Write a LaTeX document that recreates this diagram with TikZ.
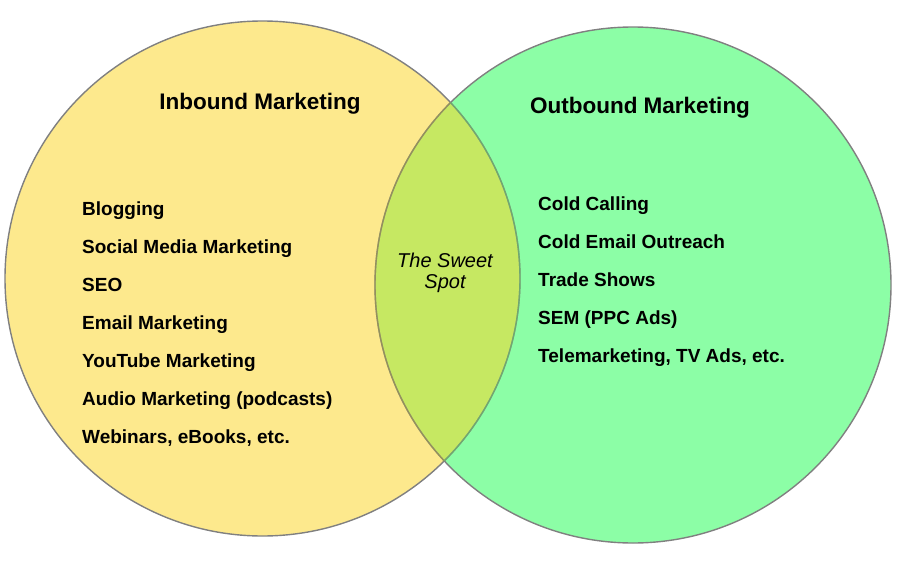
\documentclass[tikz,border=0pt]{standalone}
\usepackage{fontspec}
\setmainfont{Liberation Sans}
\definecolor{inyellow}{HTML}{FDE98D}
\definecolor{outgreen}{HTML}{8CFEA6}
\definecolor{sweet}{HTML}{C6E862}
\definecolor{rim}{HTML}{808080}
\begin{document}
\begin{tikzpicture}[x=1pt,y=-1pt,
  title/.style={font=\fontsize{22.5}{26}\selectfont\bfseries, anchor=base},
  item/.style={font=\fontsize{19}{22}\selectfont\bfseries, anchor=base west, inner sep=0pt},
  sweetlbl/.style={font=\fontsize{20}{21}\selectfont\itshape, align=center, anchor=base, inner sep=0pt},
  rimline/.style={draw=rim, line width=1.4pt}]
\useasboundingbox (0,0) rectangle (900,565);
\coordinate (cl) at (262.5,278.5);
\coordinate (cr) at (633,285);
\fill[inyellow] (cl) circle[radius=257.5];
\fill[outgreen] (cr) circle[radius=258];
\begin{scope}
  \clip (cl) circle[radius=257.5];
  \fill[sweet] (cr) circle[radius=258];
\end{scope}
\draw[rimline] (cl) circle[radius=257.5];
\draw[rimline] (cr) circle[radius=258];
\begin{scope}
  \clip (cl) circle[radius=257.5];
  \draw[draw=black!20!olive!70, line width=1.4pt, opacity=0.6] (cr) circle[radius=258];
\end{scope}
\begin{scope}
  \clip (cr) circle[radius=258];
  \draw[draw=black!40!green!60, line width=1.4pt, opacity=0.6] (cl) circle[radius=257.5];
\end{scope}

\node[title] (tin) at (260,109) {Inbound Marketing};
\node[title] (tout) at (640,113) {Outbound Marketing};

\node[item] (l1) at (82,215) {Blogging};
\node[item] (l2) at (82,253) {Social Media Marketing};
\node[item] (l3) at (82,291) {SEO};
\node[item] (l4) at (82,329) {Email Marketing};
\node[item] (l5) at (82,367) {YouTube Marketing};
\node[item] (l6) at (82,405) {Audio Marketing (podcasts)};
\node[item] (l7) at (82,443) {Webinars, eBooks, etc.};

\node[item] (r1) at (538,210) {Cold Calling};
\node[item] (r2) at (538,248) {Cold Email Outreach};
\node[item] (r3) at (538,286) {Trade Shows};
\node[item] (r4) at (538,324) {SEM (PPC Ads)};
\node[item] (r5) at (538,362) {Telemarketing, TV Ads, etc.};

\node[sweetlbl] (s1) at (445,267) {The Sweet};
\node[sweetlbl] (s2) at (445,288) {Spot};
\end{tikzpicture}
\end{document}
